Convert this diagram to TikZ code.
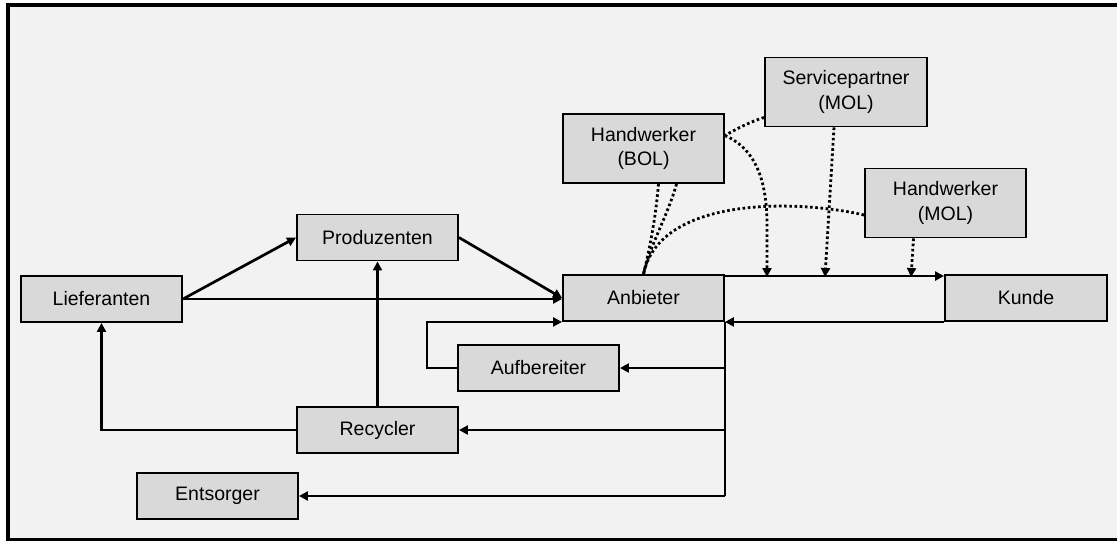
\documentclass[tikz,border=0pt]{standalone}
\usepackage{fontspec}
\setmainfont{Liberation Sans}
\usetikzlibrary{arrows.meta,calc}
\definecolor{bgc}{HTML}{F2F2F2}
\definecolor{boxfill}{HTML}{D9D9D9}
\begin{document}
\begin{tikzpicture}[x=1pt,y=-1pt,
  box/.style={draw=black, line width=1.9pt, fill=boxfill, minimum width=161pt, minimum height=46pt, inner sep=0pt, align=center, font=\fontsize{19.5}{24.5}\selectfont},
  tall/.style={minimum height=69pt},
  flow/.style={line width=2.7pt, -{Triangle[length=9pt,width=9pt]}},
  plain/.style={line width=2.7pt},
  dots/.style={line width=2.8pt, dash pattern=on 2.6pt off 2.6pt},
  dotarr/.style={dots, -{Triangle[length=9pt,width=9pt]}}
]
\useasboundingbox (0,0) rectangle (1117,541);
\fill[white] (0,0) rectangle (1117,541);
\fill[bgc] (8,5) rectangle (1117,540);
\draw[line width=4pt] (8,541) -- (8,5) -- (1117,5);
\draw[line width=3pt] (8,539.5) -- (1117,539.5);

\node[box] (lief) at (101.5,299) {Lieferanten};
\node[box] (prod) at (377.5,237.5) {Produzenten};
\node[box] (anb) at (643.5,298) {Anbieter};
\node[box, minimum width=162pt] (kunde) at (1026,298) {Kunde};
\node[box] (aufb) at (538.5,368) {Aufbereiter};
\node[box] (recy) at (377.5,430) {Recycler};
\node[box] (ents) at (217.5,496) {Entsorger};
\node[box,tall] (hwbol) at (643.5,148.5) {Handwerker\\(BOL)};
\node[box,tall,minimum width=162pt] (serv) at (846,92) {Servicepartner\\(MOL)};
\node[box,tall] (hwmol) at (945.5,203) {Handwerker\\(MOL)};

\coordinate (t1) at (767,277);
\coordinate (t2) at (825,277);
\coordinate (t3) at (911,277);

% solid flows
\draw[flow] (lief.east) -- (prod.west);
\draw[flow] (lief.east) -- (lief.east -| anb.west);
\draw[flow] (prod.east) -- (anb.west);
\draw[flow] ($(anb.north east)+(0,2)$) -- ($(kunde.north west)+(0,2)$);
\draw[flow] (kunde.south west) -- (anb.south east);
\draw[plain] (anb.south east) -- (anb.south east |- ents.east);
\draw[flow] (anb.south east |- aufb.east) -- (aufb.east);
\draw[flow] (anb.south east |- recy.east) -- (recy.east);
\draw[flow] (anb.south east |- ents.east) -- (ents.east);
\draw[flow] (aufb.west) -- ++(-30,0) |- (anb.south west);
\draw[flow] (recy.north) -- (prod.south);
\draw[flow] (recy.west) -| (lief.south);

% dotted links
\draw[dots] ($(serv.south west)+(0,-10)$) .. controls (750,122) and (738,128) .. ($(hwbol.east)+(0,-13)$);
\draw[dotarr] ($(hwbol.east)+(0,-13)$) .. controls (758,150) and (767,185) .. (767,225) -- (t1);
\draw[dotarr] ($(serv.south)+(-12,0)$) -- (t2);
\draw[dots] ($(hwbol.south)+(15,0)$) .. controls (655,225) and (648,255) .. (anb.north);
\draw[dots] ($(hwbol.south)+(33,0)$) .. controls (668,215) and (650,245) .. (anb.north);
\draw[dots] ($(hwmol.west)+(0,12)$) .. controls (800,200) and (660,195) .. (anb.north);
\draw[dotarr] ($(hwmol.south)+(-32,0)$) -- (t3);
\end{tikzpicture}
\end{document}
